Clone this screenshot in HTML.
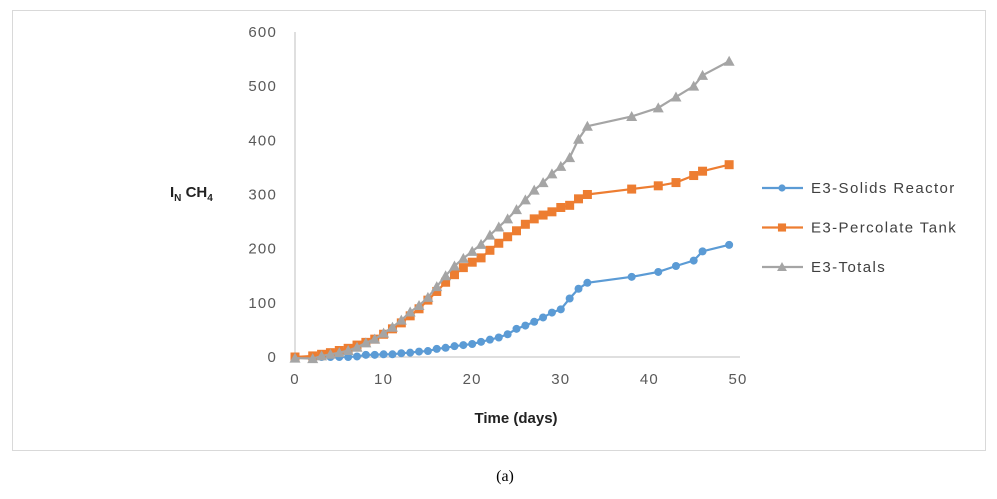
<!DOCTYPE html>
<html><head><meta charset="utf-8"><style>
body{margin:0;background:#fff;width:997px;height:494px;overflow:hidden;font-family:"Liberation Sans",sans-serif}
</style></head><body>
<svg width="997" height="494">
<rect x="12.5" y="10.5" width="973" height="440" fill="#fff" stroke="#d9d9d9"/>
<g id="axes"></g><g id="series"></g>
<text x="170" y="197" font-size="15" font-weight="bold" fill="#222">I<tspan font-size="10" dy="4">N</tspan><tspan dy="-4"> CH</tspan><tspan font-size="10" dy="4">4</tspan></text>
<text x="516" y="423" font-size="15" font-weight="bold" fill="#222" text-anchor="middle">Time (days)</text>
<text x="505" y="481" font-size="16" font-family="Liberation Serif,serif" fill="#000" text-anchor="middle">(a)</text>
<g id="legend"></g>
</svg>
<script>
const days=[0,2,3,4,5,6,7,8,9,10,11,12,13,14,15,16,17,18,19,20,21,22,23,24,25,26,27,28,29,30,31,32,33,38,41,43,45,46,49];
const solids=[0,0,0,0,0,0,1,4,4,5,5,7,8,10,11,15,17,20,22,24,28,32,36,42,52,58,65,73,82,88,108,126,137,148,157,168,178,195,207];
const percolate=[0,2,5,8,12,16,22,27,33,42,52,63,76,89,105,121,138,152,165,175,183,197,210,222,233,245,255,262,268,276,280,292,300,310,316,322,335,343,355];
const totals=[-2,-3,2,5,8,12,18,26,33,44,55,68,83,95,110,130,150,168,182,195,208,225,240,255,272,290,308,322,338,352,368,402,426,444,460,480,500,520,546];
const xTicks=[0,10,20,30,40,50];
const yTicks=[0,100,200,300,400,500,600];
const names=["E3-Solids Reactor","E3-Percolate Tank","E3-Totals"];
const NS="http://www.w3.org/2000/svg";
const X=d=>295+d*8.86, Y=v=>357-v*0.5417;
function mk(t,a,p){const e=document.createElementNS(NS,t);for(const k in a)e.setAttribute(k,a[k]);p.appendChild(e);return e;}
const ax=document.getElementById('axes');
let l=mk('line',{x1:295,y1:Y(0),x2:740,y2:Y(0),stroke:'#bfbfbf'},ax);


l=mk('line',{x1:295,y1:Y(0),x2:295,y2:Y(600),stroke:'#bfbfbf'},ax);


xTicks.forEach(t=>{const e=mk('text',{x:X(t),y:384,'font-size':15,'letter-spacing':1.2,fill:'#595959','text-anchor':'middle'},ax);e.textContent=t;

});
yTicks.forEach(t=>{const e=mk('text',{x:277,y:Y(t)+5,'font-size':15,'letter-spacing':1.2,fill:'#595959','text-anchor':'end'},ax);e.textContent=t;

});
const sg=document.getElementById('series');
const cols=['#5b9bd5','#ed7d31','#a5a5a5'];
function marker(kind,x,y,c,p,s){let m;s=s||1;
if(kind==0)m=mk('circle',{cx:x,cy:y,r:4*s,fill:c},p);
else if(kind==1)m=mk('rect',{x:x-4.5*s,y:y-4.5*s,width:9*s,height:9*s,fill:c},p);
else m=mk('polygon',{points:`${x},${y-5.5*s} ${x+5.5*s},${y+4.5*s} ${x-5.5*s},${y+4.5*s}`,fill:c},p);return m;}
[solids,percolate,totals].forEach((s,i)=>{
const g=mk('g',{},sg);


mk('polyline',{points:s.map((v,j)=>X(days[j])+','+Y(v)).join(' '),fill:'none',stroke:cols[i],'stroke-width':2.2},g);
s.forEach((v,j)=>{const m=marker(i,X(days[j]),Y(v),cols[i],g);

});
});
const lg=document.getElementById('legend');
names.forEach((n,i)=>{const y=188+i*39.5;const g=mk('g',{},lg);


mk('line',{x1:762,y1:y,x2:803,y2:y,stroke:cols[i],'stroke-width':2.2},g);marker(i,782,y,cols[i],g,0.9);
const t=mk('text',{x:811,y:y+5,'font-size':15,'letter-spacing':1.4,fill:'#404040'},g);t.textContent=n;});
</script>
</body></html>
